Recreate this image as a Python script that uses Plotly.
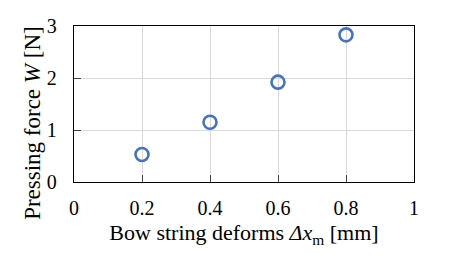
import plotly.graph_objects as go

deform_mm = [0.2, 0.4, 0.6, 0.8]
force_N = [0.53, 1.15, 1.92, 2.83]
x_ticks = [0, 0.2, 0.4, 0.6, 0.8, 1]
x_tick_labels = ["0", "0.2", "0.4", "0.6", "0.8", "1"]
y_ticks = [0, 1, 2, 3]

fig = go.Figure()
fig.add_trace(go.Scatter(
    x=deform_mm, y=force_N, mode="markers",
    marker=dict(symbol="circle-open", size=13, color="#4472C4", line=dict(width=2.6, color="#4472C4")),
    showlegend=False,
))

ff = "Liberation Serif"
fig.update_layout(
    width=455, height=279,
    margin=dict(l=74, r=41, t=26, b=97),
    paper_bgcolor="white", plot_bgcolor="white",
    font=dict(family=ff, size=20, color="black"),
)
fig.update_xaxes(
    range=[0, 1], tickvals=x_ticks, ticktext=x_tick_labels,
    showgrid=True, gridcolor="#d9d9d9", gridwidth=1,
    showline=True, linecolor="black", linewidth=1.3, mirror=True,
    ticks="inside", ticklen=7, tickcolor="#404040", tickwidth=1,
    zeroline=False,
    tickfont=dict(family=ff, size=20, color="black"),
    ticklabelstandoff=8,
    title=dict(text="Bow string deforms <i>Δx</i><sub>m</sub> [mm]", font=dict(family=ff, size=22, color="black"), standoff=6),
)
fig.update_yaxes(
    range=[0, 3], tickvals=y_ticks,
    showgrid=True, gridcolor="#d9d9d9", gridwidth=1,
    showline=True, linecolor="black", linewidth=1.3, mirror=True,
    ticks="inside", ticklen=7, tickcolor="#404040", tickwidth=1,
    zeroline=False,
    tickfont=dict(family=ff, size=20, color="black"),
    ticklabelstandoff=12,
)
fig.add_annotation(
    text="Pressing force <i>W</i> [N]", textangle=-90,
    xref="paper", yref="paper", x=-0.124, y=0.378,
    xanchor="center", yanchor="middle", showarrow=False,
    font=dict(family=ff, size=23, color="black"),
)
fig.write_html("out.html")
